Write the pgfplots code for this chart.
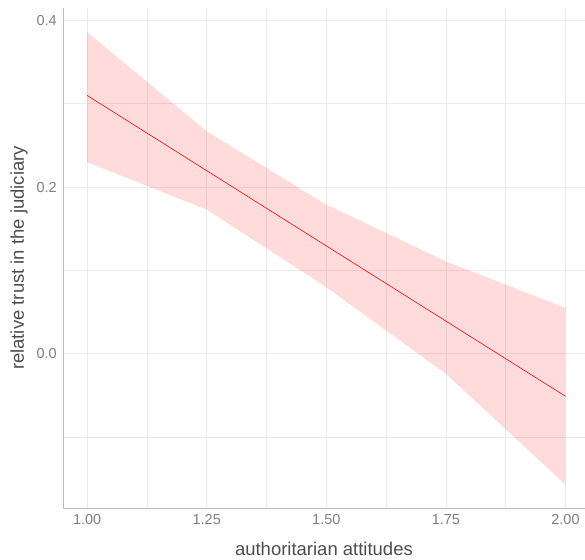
\documentclass[border=0pt]{standalone}
\usepackage{fontspec}
\setmainfont{Liberation Sans}
\usepackage{pgfplots}
\pgfplotsset{compat=1.18}
\definecolor{tickGray}{RGB}{127,127,127}
\definecolor{titleGray}{RGB}{77,77,77}
\definecolor{gridGray}{RGB}{235,235,235}
\definecolor{axisGray}{RGB}{190,190,190}

\begin{document}
\begin{tikzpicture}
\begin{axis}[
  scale only axis,
  width=521.7pt,
  height=500.3pt,
  xmin=0.95, xmax=2.04,
  ymin=-0.185, ymax=0.415,
  xtick={1,1.25,1.5,1.75,2},
  minor xtick={1.125,1.375,1.625,1.875},
  ytick={0,0.2,0.4},
  minor ytick={-0.1,0.1,0.3},
  xticklabel style={/pgf/number format/fixed, /pgf/number format/fixed zerofill,
                    /pgf/number format/precision=2, yshift=-3pt},
  yticklabel style={/pgf/number format/fixed, /pgf/number format/fixed zerofill,
                    /pgf/number format/precision=1, xshift=-3pt},
  /pgf/number format/assume math mode=true,
  tick label style={font=\fontsize{14.5}{16}\selectfont, color=tickGray},
  major tick length=0pt,
  minor tick length=0pt,
  grid=both,
  major grid style={draw=gridGray, line width=0.8pt},
  minor grid style={draw=gridGray, line width=0.8pt},
  axis x line*=bottom,
  axis y line*=left,
  axis line style={draw=axisGray, line width=0.8pt, -},
  xlabel={authoritarian attitudes},
  ylabel={relative trust in the judiciary},
  label style={font=\fontsize{18.5}{20}\selectfont, color=titleGray},
  xlabel style={at={(rel axis cs:0.5,0)}, anchor=center, yshift=-40.7pt},
  ylabel style={at={(rel axis cs:0,0.5)}, anchor=center, yshift=44.3pt},
  clip=false,
]
% confidence band
\addplot[draw=none, fill=red, fill opacity=0.14] coordinates {
  (1.00,0.386) (1.25,0.267) (1.50,0.179) (1.75,0.111) (2.00,0.055)
  (2.00,-0.157) (1.75,-0.024) (1.50,0.080) (1.25,0.173) (1.00,0.230)
} -- cycle;
% fitted line
\addplot[red, line width=0.6pt] coordinates {
  (1.00,0.310) (2.00,-0.051)
};
\path (rel axis cs:0,0) ++(-63.3pt,-51.7pt);
\path (rel axis cs:1,1) ++(0pt,8pt);
\end{axis}
\end{tikzpicture}
\end{document}
